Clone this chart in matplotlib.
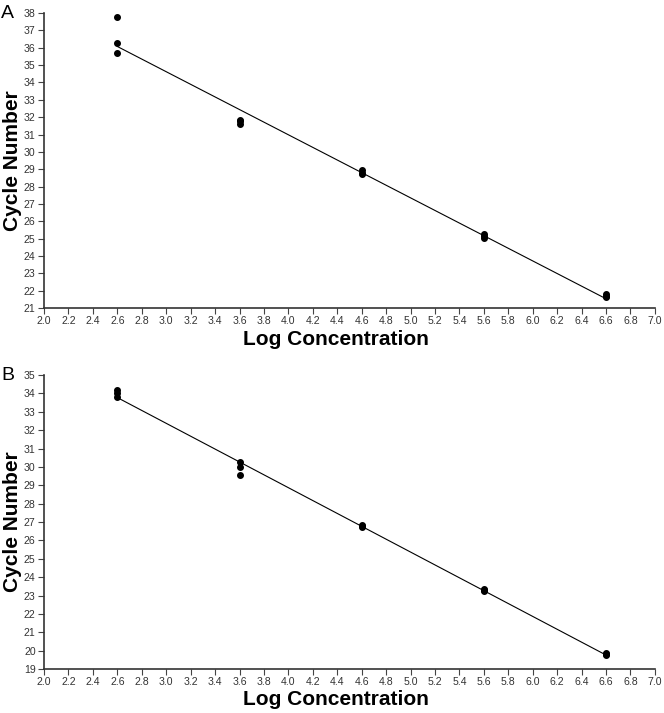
import numpy as np
import matplotlib
matplotlib.use("Agg")
import matplotlib.pyplot as plt

plt.rcParams['font.family'] = ['Liberation Sans', 'DejaVu Sans']

# Panel A data
xa = [2.6, 2.6, 2.6, 3.6, 3.6, 3.6, 4.6, 4.6, 4.6, 5.6, 5.6, 5.6, 6.6, 6.6, 6.6]
ya = [37.8, 36.3, 35.7, 31.85, 31.75, 31.6, 28.95, 28.8, 28.7, 25.25, 25.15, 25.05, 21.8, 21.7, 21.65]
# Panel B data
xb = [2.6, 2.6, 2.6, 3.6, 3.6, 3.6, 4.6, 4.6, 4.6, 5.6, 5.6, 5.6, 6.6, 6.6, 6.6]
yb = [34.2, 34.0, 33.8, 30.25, 30.0, 29.55, 26.85, 26.8, 26.75, 23.35, 23.3, 23.25, 19.85, 19.8, 19.75]

xticks = np.round(np.arange(2.0, 7.01, 0.2), 1)
xticklabels = [f"{v:.1f}" for v in xticks]

fig = plt.figure(figsize=(6.64, 7.13), dpi=100)
axA = fig.add_axes([0.0663, 0.568, 0.9200, 0.4137])
axB = fig.add_axes([0.0663, 0.0617, 0.9200, 0.4123])

def style(ax, x, y, ylim, letter):
    ax.plot(x, y, 'o', color='black', markersize=4, zorder=3)
    coef = np.polyfit(x, y, 1)
    xl = np.array([min(x), max(x)])
    ax.plot(xl, np.polyval(coef, xl), color='black', linewidth=0.8)
    ax.set_xlim(2.0, 7.0)
    ax.set_ylim(*ylim)
    ax.set_xticks(xticks)
    ax.set_xticklabels(xticklabels)
    ax.set_yticks(np.arange(ylim[0], ylim[1] + 1, 1))
    for s in ['top', 'right']:
        ax.spines[s].set_visible(False)
    for s in ['left', 'bottom']:
        ax.spines[s].set_linewidth(1.2)
        ax.spines[s].set_color('#333333')
    ax.tick_params(axis='both', direction='out', length=4, width=0.8,
                   colors='#444444', labelsize=7.6, labelcolor='#333333', pad=2)
    ax.set_xlabel('Log Concentration', fontsize=15, fontweight='bold')
    ax.xaxis.set_label_coords(0.478, -0.073)
    ax.set_ylabel('Cycle Number', fontsize=15, fontweight='bold')
    ax.yaxis.set_label_coords(-0.036, 0.5)
    ax.text(-0.07, 1.0, letter, transform=ax.transAxes, fontsize=14,
            ha='left', va='center')

style(axA, xa, ya, (21, 38), 'A')
style(axB, xb, yb, (19, 35), 'B')

fig.savefig('out.png', dpi=100)
